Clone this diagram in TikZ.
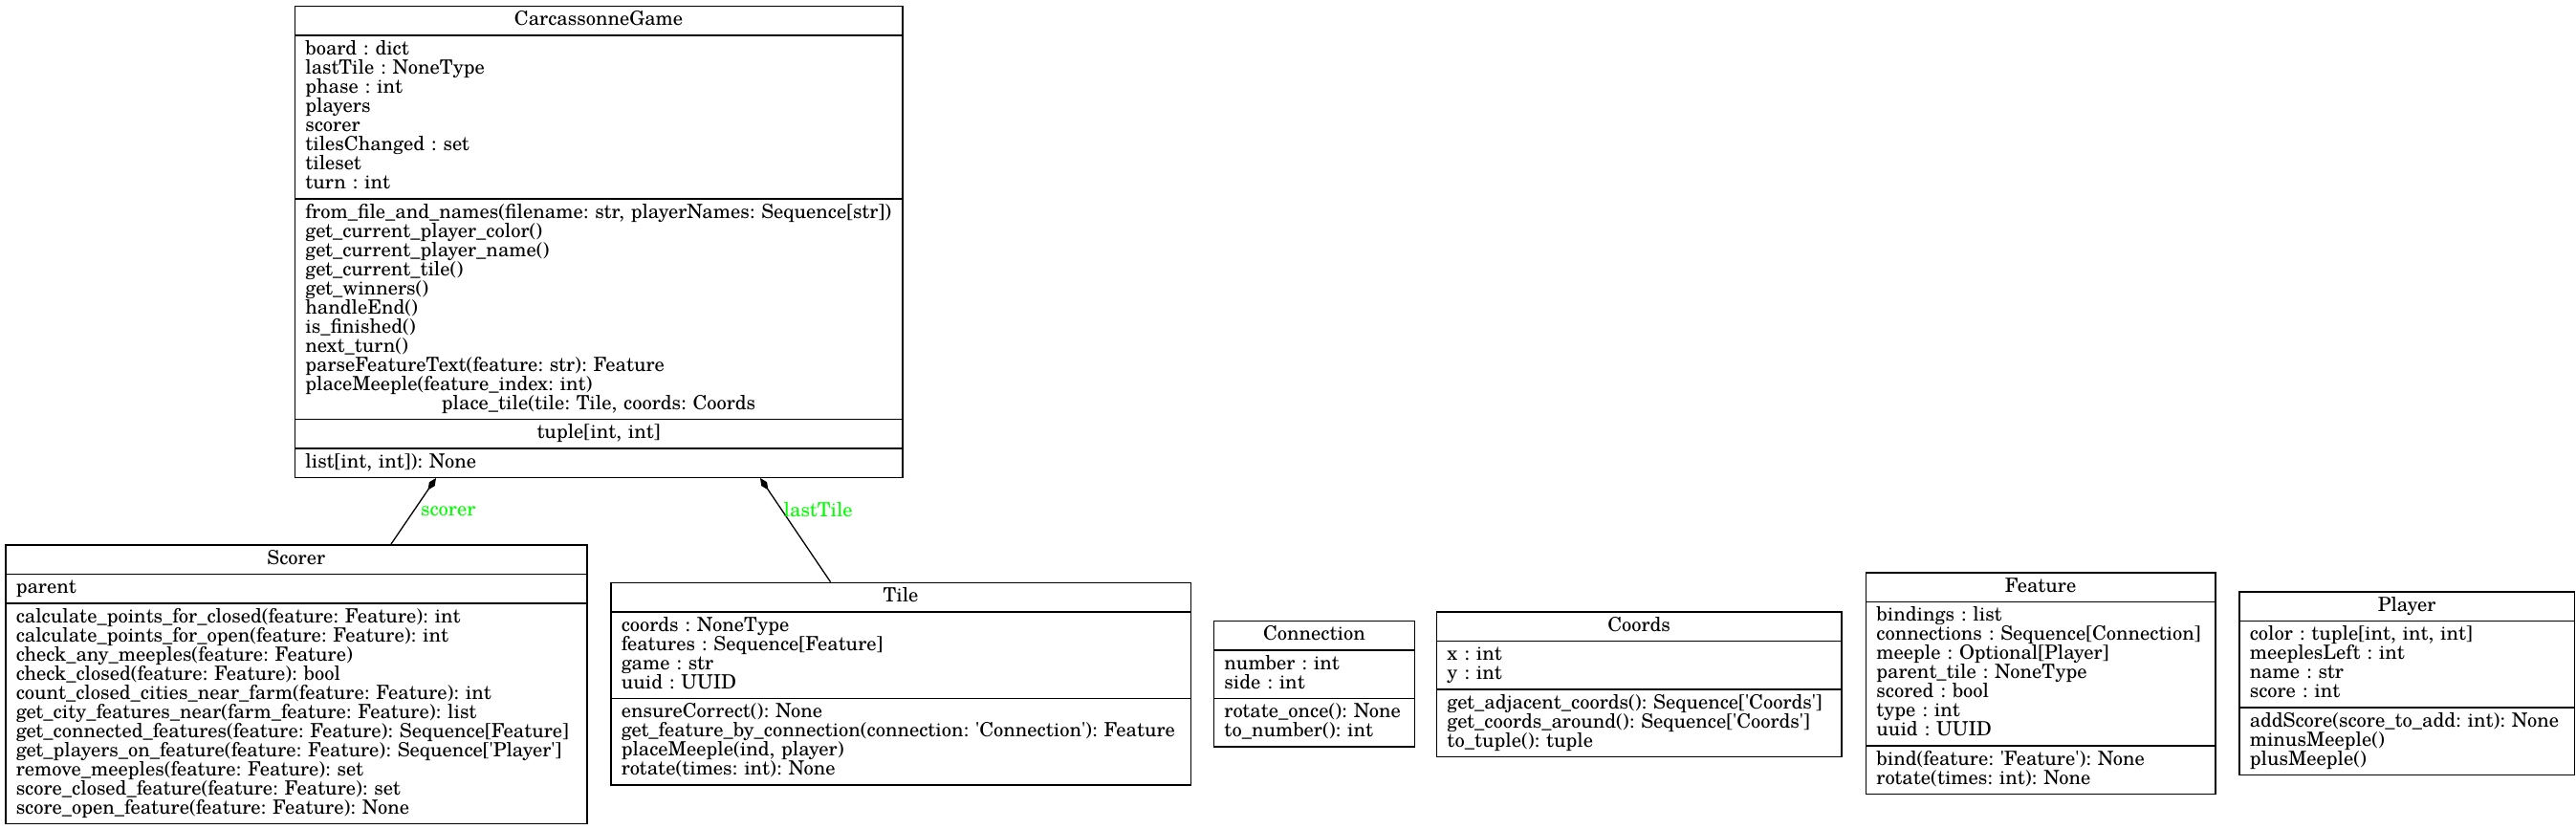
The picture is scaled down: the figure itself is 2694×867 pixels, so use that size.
\documentclass[tikz,border=0pt]{standalone}
\usepackage{fontspec}
\setmainfont{TeX Gyre Schola}
\usetikzlibrary{shapes.multipart,arrows.meta}
\definecolor{00ff00}{HTML}{00ff00}
\newcommand{\st}{\vrule height16pt depth6pt width0pt}
\newcommand{\ctr}[1]{\st\hskip0pt plus1filll#1\hskip0pt plus1filll\null}
\newcommand{\q}{\textquotesingle}
\newcommand{\umlfont}{\fontsize{20.5}{20}\selectfont\lineskiplimit=-20pt\frenchspacing}

\begin{document}
\begin{tikzpicture}[x=1pt,y=-1pt,
    umlclass/.style={draw,line width=1.5pt,rectangle split,rectangle split parts=#1,anchor=north west,inner xsep=11pt,inner ysep=3.5pt,align=left,font=\umlfont},
    comp/.style={-{Diamond[length=15pt,width=7pt]},line width=1.3pt},
    edgelabel/.style={text=00ff00,font=\umlfont,inner sep=2pt}]
    \useasboundingbox(0,0)rectangle(2694,867);
    \node[umlclass=5,text width=613.4pt](game)at(307.6,6){\ctr{CarcassonneGame}
        \nodepart{two}\st board : dict\\lastTile : NoneType\\phase : int\\players\\scorer\\tilesChanged : set\\tileset\\turn : int\st
        \nodepart{three}\st from\_file\_and\_names(filename: str, playerNames: Sequence[str])\\get\_current\_player\_color()\\get\_current\_player\_name()\\get\_current\_tile()\\get\_winners()\\handleEnd()\\is\_finished()\\next\_turn()\\parseFeatureText(feature: str): Feature\\placeMeeple(feature\_index: int)\\\ctr{place\_tile(tile: Tile, coords: Coords}
        \nodepart{four}\ctr{tuple[int, int]}
        \nodepart{five}\st list[int, int]): None\st};
    \node[umlclass=3,text width=586pt](scorer)at(5,569){\ctr{Scorer}
        \nodepart{two}\st parent\st
        \nodepart{three}\st calculate\_points\_for\_closed(feature: Feature): int\\calculate\_points\_for\_open(feature: Feature): int\\check\_any\_meeples(feature: Feature)\\check\_closed(feature: Feature): bool\\count\_closed\_cities\_near\_farm(feature: Feature): int\\get\_city\_features\_near(farm\_feature: Feature): list\\get\_connected\_features(feature: Feature): Sequence[Feature]\\get\_players\_on\_feature(feature: Feature): Sequence[\q Player\q]\\remove\_meeples(feature: Feature): set\\score\_closed\_feature(feature: Feature): set\\score\_open\_feature(feature: Feature): None\st};
    \node[umlclass=3,text width=584.6pt](tile)at(638,608.7){\ctr{Tile}
        \nodepart{two}\st coords : NoneType\\features : Sequence[Feature]\\game : str\\uuid : UUID\st
        \nodepart{three}\st ensureCorrect(): None\\get\_feature\_by\_connection(connection: \q Connection\q): Feature\\placeMeeple(ind, player)\\rotate(times: int): None\st};
    \node[umlclass=3,text width=188pt](connection)at(1268.7,648.7){\ctr{Connection}
        \nodepart{two}\st number : int\\side : int\st
        \nodepart{three}\st rotate\_once(): None\\to\_number(): int\st};
    \node[umlclass=3,text width=401.3pt](coords)at(1501.7,639){\ctr{Coords}
        \nodepart{two}\st x : int\\y : int\st
        \nodepart{three}\st get\_adjacent\_coords(): Sequence[\q Coords\q]\\get\_coords\_around(): Sequence[\q Coords\q]\\to\_tuple(): tuple\st};
    \node[umlclass=3,text width=343.3pt](feature)at(1950.7,598.3){\ctr{Feature}
        \nodepart{two}\st bindings : list\\connections : Sequence[Connection]\\meeple : Optional[Player]\\parent\_tile : NoneType\\scored : bool\\type : int\\uuid : UUID\st
        \nodepart{three}\st bind(feature: \q Feature\q): None\\rotate(times: int): None\st};
    \node[umlclass=3,text width=328.7pt](player)at(2341,618.3){\ctr{Player}
        \nodepart{two}\st color : tuple[int, int, int]\\meeplesLeft : int\\name : str\\score : int\st
        \nodepart{three}\st addScore(score\_to\_add: int): None\\minusMeeple()\\plusMeeple()\st};
    \draw[comp]([xshift=404pt]scorer.north west)--node[edgelabel,right,pos=.5,xshift=5pt]{scorer}([xshift=148.4pt]game.south west);
    \draw[comp]([xshift=230.6pt]tile.north west)--node[edgelabel,right,pos=.7]{lastTile}([xshift=487.4pt]game.south west);
\end{tikzpicture}
\end{document}
